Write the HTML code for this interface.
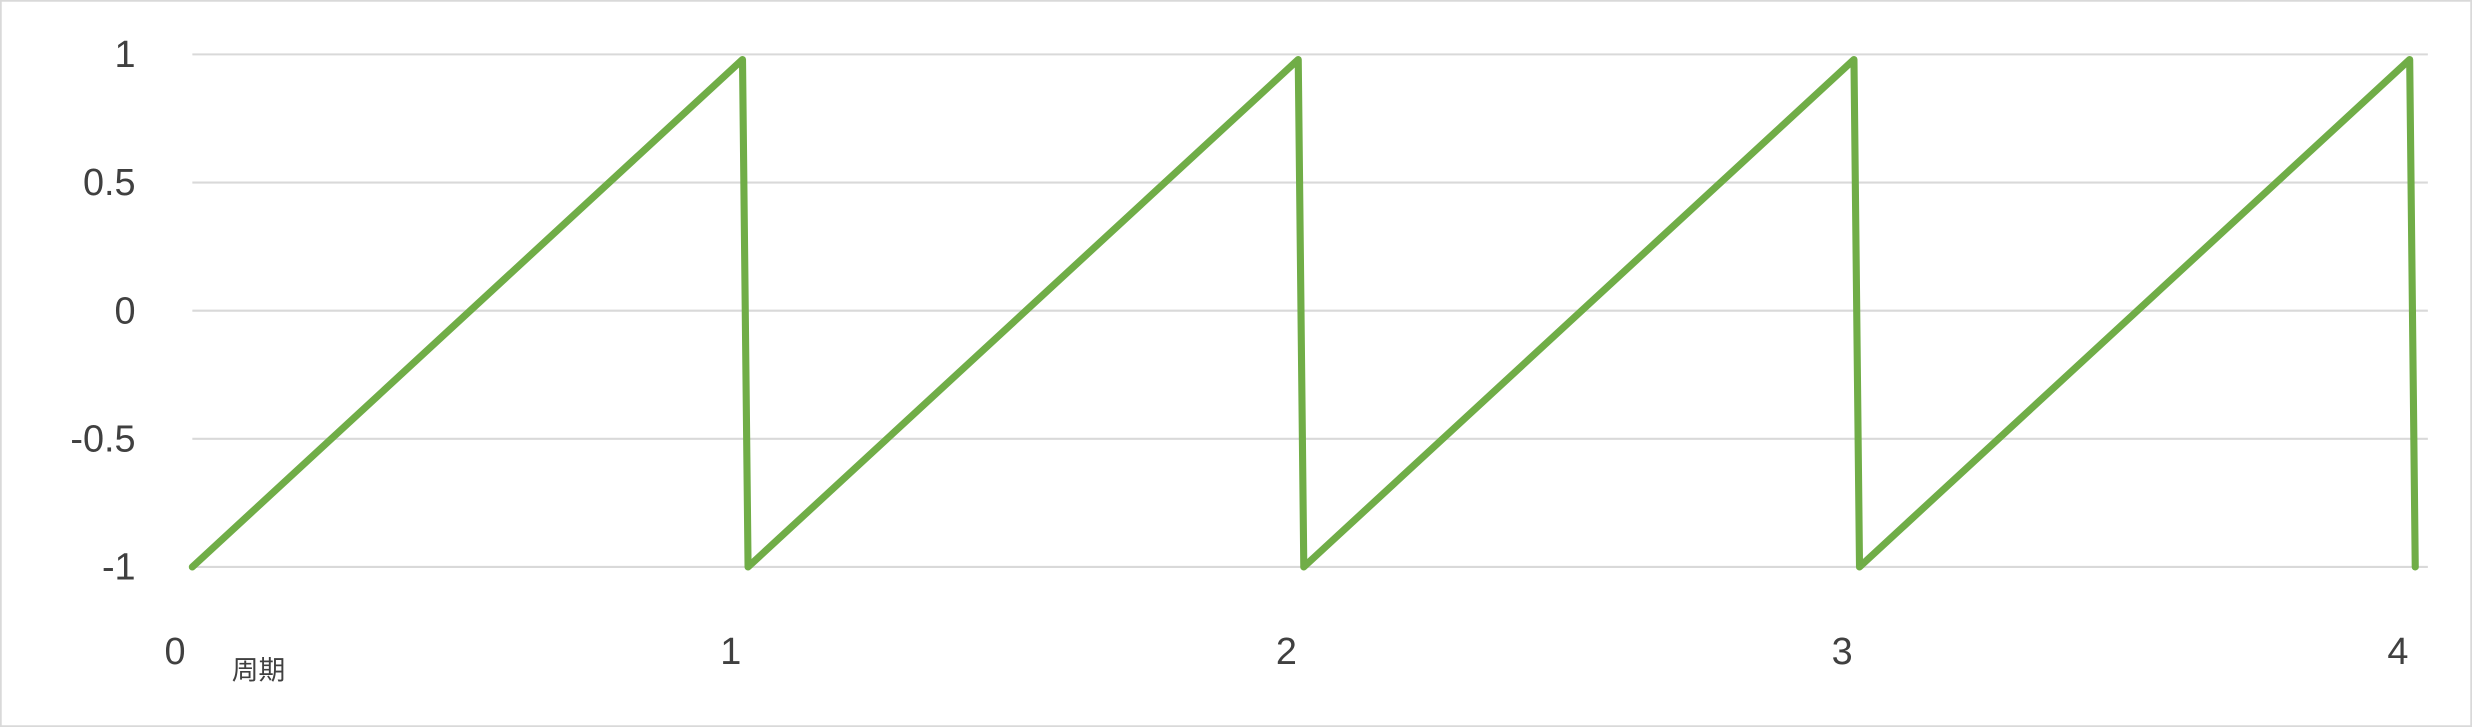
<!DOCTYPE html>
<html><head><meta charset="utf-8">
<style>
html,body{margin:0;padding:0;background:#fff;}
svg{display:block;}
text{font-family:"Liberation Sans","Noto Sans CJK JP",sans-serif;fill:#404040;}
</style></head>
<body>
<svg id="chart" width="2472" height="727" viewBox="0 0 1568 461" preserveAspectRatio="none" xmlns="http://www.w3.org/2000/svg">
<rect x="0.5" y="0.5" width="1567" height="460" fill="#fff" stroke="#d9d9d9" stroke-width="1.2"/>
<g id="grid"></g>
<g id="ylabels"></g>
<g id="xlabels"></g>
<g id="series"></g>
</svg>
<script>
const xValues = [0, 0.99, 1.0, 1.99, 2.0, 2.99, 3.0, 3.99, 4.0];
const yValues = [-1, 0.98, -1, 0.98, -1, 0.98, -1, 0.98, -1];
const yTicks = [1, 0.5, 0, -0.5, -1];
const yTickLabels = ["1", "0.5", "0", "-0.5", "-1"];
const xTicks = [0, 1, 2, 3, 4];
const xTickLabels = ["0", "1", "2", "3", "4"];

const NS = "http://www.w3.org/2000/svg";
const X0 = 122, XU = 352.5;
function xs(v){ return X0 + v * XU; }
function ys(v){ return 197 - v * 162.5; }

const grid = document.getElementById('grid');
yTicks.forEach((t, i) => {
  const l = document.createElementNS(NS, 'line');
  
  
  l.setAttribute('x1', 122); l.setAttribute('x2', 1540);
  l.setAttribute('y1', ys(t)); l.setAttribute('y2', ys(t));
  l.setAttribute('stroke', '#d9d9d9'); l.setAttribute('stroke-width', '1.3');
  grid.appendChild(l);
  const tx = document.createElementNS(NS, 'text');
  
  
  tx.setAttribute('x', 86); tx.setAttribute('y', ys(t) + 8);
  tx.setAttribute('text-anchor', 'end'); tx.setAttribute('font-size', '24');
  tx.textContent = yTickLabels[i];
  document.getElementById('ylabels').appendChild(tx);
});
xTicks.forEach((t, i) => {
  const tx = document.createElementNS(NS, 'text');
  
  
  tx.setAttribute('x', xs(t) - 11); tx.setAttribute('y', 421);
  tx.setAttribute('text-anchor', 'middle'); tx.setAttribute('font-size', '24');
  tx.textContent = xTickLabels[i];
  document.getElementById('xlabels').appendChild(tx);
});
const xt = document.createElementNS(NS, 'text');


xt.setAttribute('x', 147); xt.setAttribute('y', 431);
xt.setAttribute('font-size', '17');
xt.textContent = '周期';
document.getElementById('xlabels').appendChild(xt);

const p = document.createElementNS(NS, 'polyline');


p.setAttribute('points', xValues.map((x, i) => xs(x) + ',' + ys(yValues[i])).join(' '));
p.setAttribute('fill', 'none'); p.setAttribute('stroke', '#70ad47');
p.setAttribute('stroke-width', '4.5'); p.setAttribute('stroke-linejoin', 'round');
p.setAttribute('stroke-linecap', 'round');
document.getElementById('series').appendChild(p);
</script>
</body></html>
